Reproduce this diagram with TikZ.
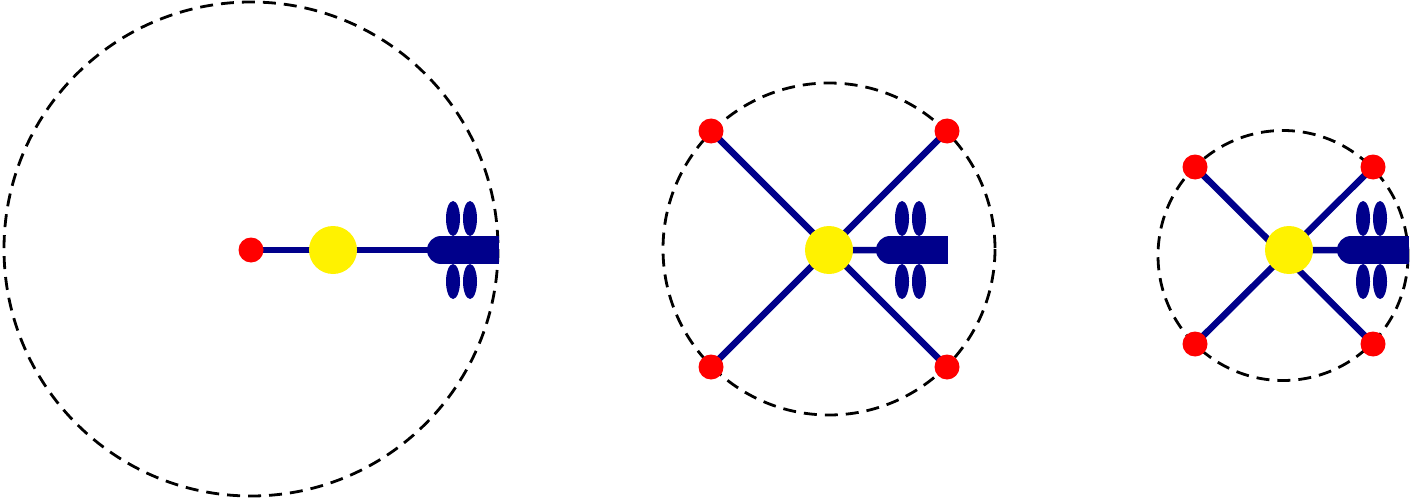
\documentclass[tikz,border=0pt]{standalone}
\usetikzlibrary{backgrounds}
\definecolor{armblue}{RGB}{0,0,139}
\tikzset{
    reddot/.style={circle, fill=red, inner sep=0pt, minimum size=25pt},
    hub/.style={circle, fill=yellow, inner sep=0pt, minimum size=48pt},
    arm/.style={draw=armblue, line width=6.5pt},
    ring/.style={draw=black, line width=2.8pt, dash pattern=on 13pt off 8pt},
}
% 尾部: #1 为左端 x, #2 为中心 y
\newcommand{\drawtail}[2]{
    \fill [armblue] (#1+14, #2) circle [radius=14];
    \fill [armblue] (#1+14, #2-14) rectangle (#1+72, #2+14);
    \fill [armblue] (#1+26, #2-31.5) ellipse [x radius=7, y radius=17.5]
                    (#1+43, #2-31.5) ellipse [x radius=7, y radius=17.5]
                    (#1+26, #2+31.5) ellipse [x radius=7, y radius=17.5]
                    (#1+43, #2+31.5) ellipse [x radius=7, y radius=17.5];
}
\begin{document}
\begin{tikzpicture}[x=1pt, y=-1pt]
    \useasboundingbox (0, 0) rectangle (1410, 500);
    % 左: 单臂
    \draw [ring] (251, 249) circle [radius=247];
    \node [reddot] (a1) at (251, 250) {};
    \node [hub] (h1) at (333, 250) {};
    \coordinate (t1) at (430, 250);
    \drawtail{427}{250}
    \begin{pgfonlayer}{background}
        \draw [arm] (a1.center) -- (h1.center) -- (t1);
    \end{pgfonlayer}

    % 中: 四臂
    \draw [ring] (829, 249) circle [radius=166];
    \node [hub] (h2) at (829, 250) {};
    \node [reddot] (b1) at (711, 131) {};
    \node [reddot] (b2) at (947, 131) {};
    \node [reddot] (b3) at (711, 367) {};
    \node [reddot] (b4) at (947, 367) {};
    \coordinate (t2) at (879, 250);
    \drawtail{876}{250}
    \begin{pgfonlayer}{background}
        \draw [arm] (b1.center) -- (b4.center)
                    (b2.center) -- (b3.center)
                    (h2.center) -- (t2);
    \end{pgfonlayer}

    % 右: 四臂, 臂较短
    \draw [ring] (1283, 255.5) circle [radius=125];
    \node [hub] (h3) at (1289, 250) {};
    \node [reddot] (c1) at (1195, 167) {};
    \node [reddot] (c2) at (1373, 167) {};
    \node [reddot] (c3) at (1195, 344) {};
    \node [reddot] (c4) at (1373, 344) {};
    \coordinate (t3) at (1340, 250);
    \drawtail{1337}{250}
    \begin{pgfonlayer}{background}
        \draw [arm] (c1.center) -- (c4.center)
                    (c2.center) -- (c3.center)
                    (h3.center) -- (t3);
    \end{pgfonlayer}
\end{tikzpicture}
\end{document}
